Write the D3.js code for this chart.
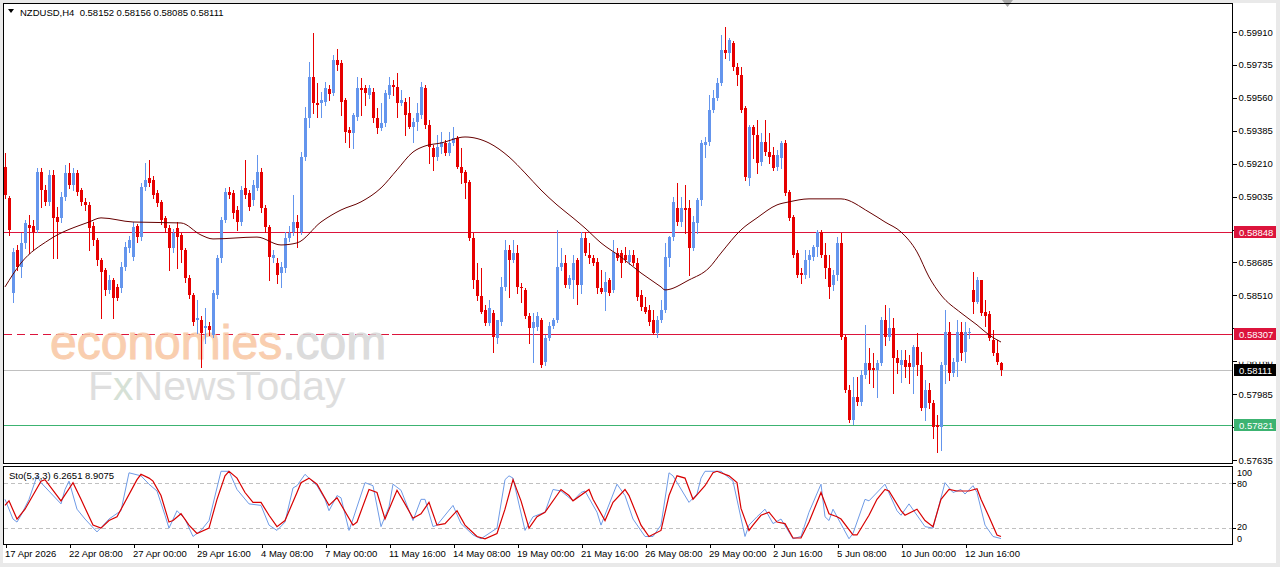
<!DOCTYPE html>
<html>
<head>
<meta charset="utf-8">
<script src="https://cdn.jsdelivr.net/npm/d3@7"></script>
<style>
  body { margin: 0; background: #e9e9e9; }
  svg { display: block; }
  text { font-family: "Liberation Sans", Arial, sans-serif; }
</style>
</head>
<body>
<div id="chart"></div>
<script>
// NZDUSD H4 candles (bar 0 = 17 Apr 16:00)
const openPrices = [
  0.59193, 0.59027, 0.58523, 0.58751, 0.58661, 0.58789, 0.58884, 0.58879, 0.58858, 0.59166,
  0.59070, 0.59006, 0.59150, 0.58927, 0.58921, 0.59033, 0.59161, 0.59097, 0.59161, 0.59070,
  0.59006, 0.58990, 0.58879, 0.58805, 0.58698, 0.58645, 0.58539, 0.58592, 0.58555, 0.58549,
  0.58661, 0.58762, 0.58714, 0.58879, 0.58821, 0.59087, 0.59134, 0.59124, 0.59054, 0.59006,
  0.58921, 0.58868, 0.58762, 0.58868, 0.58831, 0.58751, 0.58602, 0.58512, 0.58379, 0.58379,
  0.58336, 0.58347, 0.58299, 0.58512, 0.58708, 0.58911, 0.59059, 0.59054, 0.58964, 0.58900,
  0.59081, 0.59054, 0.59017, 0.59081, 0.59166, 0.58975, 0.58874, 0.58708, 0.58682, 0.58629,
  0.58655, 0.58815, 0.58847, 0.58900, 0.58847, 0.59246, 0.59453, 0.59671, 0.59533, 0.59533,
  0.59538, 0.59607, 0.59586, 0.59761, 0.59745, 0.59549, 0.59389, 0.59373, 0.59458, 0.59612,
  0.59612, 0.59575, 0.59591, 0.59453, 0.59400, 0.59426, 0.59575, 0.59628, 0.59618, 0.59533,
  0.59538, 0.59480, 0.59405, 0.59431, 0.59469, 0.59612, 0.59416, 0.59294, 0.59246, 0.59299,
  0.59320, 0.59267, 0.59320, 0.59347, 0.59193, 0.59166, 0.59113, 0.58815, 0.58592, 0.58507,
  0.58432, 0.58363, 0.58416, 0.58283, 0.58368, 0.58555, 0.58751, 0.58698, 0.58735, 0.58555,
  0.58539, 0.58400, 0.58336, 0.58341, 0.58379, 0.58156, 0.58283, 0.58347, 0.58379, 0.58661,
  0.58682, 0.58565, 0.58592, 0.58698, 0.58565, 0.58815, 0.58724, 0.58708, 0.58687, 0.58549,
  0.58528, 0.58592, 0.58539, 0.58735, 0.58735, 0.58724, 0.58687, 0.58724, 0.58682, 0.58512,
  0.58448, 0.58432, 0.58379, 0.58310, 0.58379, 0.58432, 0.58708, 0.58821, 0.58975, 0.58900,
  0.58975, 0.58975, 0.58762, 0.58895, 0.59017, 0.59310, 0.59325, 0.59496, 0.59560, 0.59639,
  0.59815, 0.59799, 0.59852, 0.59724, 0.59682, 0.59506, 0.59134, 0.59405, 0.59363, 0.59219,
  0.59325, 0.59272, 0.59256, 0.59193, 0.59241, 0.59320, 0.59059, 0.58927, 0.58735, 0.58629,
  0.58618, 0.58698, 0.58714, 0.58768, 0.58847, 0.58724, 0.58655, 0.58565, 0.58618, 0.58789,
  0.58289, 0.58007, 0.57848, 0.57970, 0.57943, 0.58087, 0.58151, 0.58124, 0.58113, 0.58151,
  0.58379, 0.58289, 0.58336, 0.58177, 0.58140, 0.58167, 0.58151, 0.58130, 0.58236, 0.58140,
  0.57911, 0.58007, 0.57938, 0.57821, 0.57810, 0.58140, 0.58315, 0.58097, 0.58156, 0.58315,
  0.58209, 0.58310, 0.58539, 0.58475, 0.58592, 0.58421, 0.58410, 0.58273, 0.58204, 0.58152
];
const highPrices = [
  0.59267, 0.59038, 0.58762, 0.58778, 0.58842, 0.58911, 0.58937, 0.58911, 0.59187, 0.59187,
  0.59097, 0.59177, 0.59177, 0.58980, 0.59059, 0.59203, 0.59214, 0.59187, 0.59177, 0.59081,
  0.59027, 0.59006, 0.58900, 0.58815, 0.58708, 0.58655, 0.58618, 0.58602, 0.58571, 0.58687,
  0.58794, 0.58826, 0.58900, 0.58890, 0.59108, 0.59214, 0.59230, 0.59145, 0.59070, 0.59017,
  0.58932, 0.58884, 0.58863, 0.58900, 0.58842, 0.58762, 0.58618, 0.58523, 0.58486, 0.58400,
  0.58443, 0.58368, 0.58539, 0.58724, 0.58927, 0.59081, 0.59087, 0.59070, 0.58985, 0.59092,
  0.59230, 0.59070, 0.59124, 0.59256, 0.59187, 0.58990, 0.58884, 0.58751, 0.58708, 0.58687,
  0.58847, 0.58879, 0.59043, 0.58937, 0.59272, 0.59512, 0.59751, 0.59905, 0.59639, 0.59591,
  0.59644, 0.59628, 0.59788, 0.59820, 0.59761, 0.59560, 0.59405, 0.59480, 0.59671, 0.59665,
  0.59628, 0.59628, 0.59612, 0.59506, 0.59533, 0.59602, 0.59671, 0.59655, 0.59692, 0.59602,
  0.59560, 0.59565, 0.59453, 0.59533, 0.59644, 0.59628, 0.59442, 0.59310, 0.59363, 0.59378,
  0.59336, 0.59378, 0.59405, 0.59357, 0.59294, 0.59177, 0.59124, 0.58842, 0.58682, 0.58655,
  0.58459, 0.58486, 0.58432, 0.58326, 0.58608, 0.58805, 0.58778, 0.58805, 0.58778, 0.58576,
  0.58549, 0.58416, 0.58416, 0.58421, 0.58389, 0.58299, 0.58368, 0.58389, 0.58858, 0.58762,
  0.58724, 0.58618, 0.58724, 0.58708, 0.58847, 0.58847, 0.58789, 0.58724, 0.58708, 0.58645,
  0.58634, 0.58602, 0.58805, 0.58762, 0.58751, 0.58768, 0.58751, 0.58751, 0.58708, 0.58539,
  0.58502, 0.58459, 0.58432, 0.58400, 0.58486, 0.58789, 0.58826, 0.59033, 0.59108, 0.59033,
  0.59097, 0.59017, 0.58932, 0.59027, 0.59336, 0.59352, 0.59575, 0.59602, 0.59665, 0.59894,
  0.59937, 0.59879, 0.59863, 0.59745, 0.59724, 0.59517, 0.59416, 0.59416, 0.59442, 0.59373,
  0.59442, 0.59373, 0.59299, 0.59283, 0.59331, 0.59336, 0.59070, 0.58937, 0.58751, 0.58655,
  0.58751, 0.58751, 0.58778, 0.58858, 0.58858, 0.58789, 0.58724, 0.58645, 0.58821, 0.58842,
  0.58299, 0.58033, 0.58076, 0.58076, 0.58113, 0.58352, 0.58231, 0.58204, 0.58167, 0.58395,
  0.58459, 0.58443, 0.58389, 0.58220, 0.58220, 0.58220, 0.58193, 0.58247, 0.58310, 0.58209,
  0.58060, 0.58044, 0.57954, 0.57874, 0.58156, 0.58432, 0.58368, 0.58177, 0.58379, 0.58368,
  0.58368, 0.58336, 0.58634, 0.58608, 0.58576, 0.58486, 0.58426, 0.58326, 0.58273, 0.58156
];
const lowPrices = [
  0.59027, 0.58831, 0.58475, 0.58645, 0.58608, 0.58762, 0.58735, 0.58751, 0.58847, 0.58980,
  0.58990, 0.58990, 0.58708, 0.58708, 0.58900, 0.59017, 0.59081, 0.59070, 0.59043, 0.58990,
  0.58964, 0.58751, 0.58778, 0.58671, 0.58389, 0.58512, 0.58523, 0.58389, 0.58486, 0.58528,
  0.58645, 0.58740, 0.58698, 0.58794, 0.58805, 0.59070, 0.59092, 0.59027, 0.58985, 0.58890,
  0.58847, 0.58645, 0.58740, 0.58655, 0.58687, 0.58581, 0.58496, 0.58352, 0.58310, 0.58130,
  0.58257, 0.58299, 0.58289, 0.58496, 0.58687, 0.58900, 0.59027, 0.58921, 0.58858, 0.58884,
  0.59027, 0.58964, 0.58990, 0.59070, 0.58953, 0.58847, 0.58592, 0.58687, 0.58576, 0.58555,
  0.58634, 0.58799, 0.58831, 0.58768, 0.58837, 0.59230, 0.59405, 0.59480, 0.59458, 0.59458,
  0.59522, 0.59549, 0.59575, 0.59708, 0.59469, 0.59325, 0.59299, 0.59294, 0.59442, 0.59469,
  0.59522, 0.59560, 0.59431, 0.59373, 0.59389, 0.59410, 0.59560, 0.59575, 0.59458, 0.59522,
  0.59363, 0.59400, 0.59325, 0.59389, 0.59453, 0.59400, 0.59214, 0.59177, 0.59230, 0.59267,
  0.59256, 0.59256, 0.59310, 0.59187, 0.59108, 0.59027, 0.58805, 0.58549, 0.58486, 0.58416,
  0.58352, 0.58352, 0.58209, 0.58257, 0.58352, 0.58539, 0.58502, 0.58687, 0.58523, 0.58475,
  0.58389, 0.58257, 0.58156, 0.58326, 0.58130, 0.58140, 0.58273, 0.58336, 0.58368, 0.58645,
  0.58555, 0.58549, 0.58496, 0.58464, 0.58523, 0.58724, 0.58682, 0.58671, 0.58523, 0.58523,
  0.58432, 0.58512, 0.58528, 0.58698, 0.58608, 0.58687, 0.58677, 0.58671, 0.58486, 0.58432,
  0.58416, 0.58352, 0.58304, 0.58289, 0.58368, 0.58421, 0.58666, 0.58805, 0.58884, 0.58879,
  0.58842, 0.58618, 0.58751, 0.58842, 0.58990, 0.59246, 0.59310, 0.59485, 0.59549, 0.59628,
  0.59772, 0.59761, 0.59708, 0.59628, 0.59485, 0.59124, 0.59097, 0.59241, 0.59161, 0.59203,
  0.59256, 0.59214, 0.59177, 0.59177, 0.59187, 0.59043, 0.58911, 0.58714, 0.58608, 0.58576,
  0.58602, 0.58608, 0.58698, 0.58719, 0.58714, 0.58602, 0.58496, 0.58539, 0.58592, 0.58279,
  0.57996, 0.57837, 0.57826, 0.57928, 0.57928, 0.58071, 0.58044, 0.58023, 0.57970, 0.58140,
  0.58247, 0.58273, 0.57991, 0.58097, 0.58049, 0.58076, 0.58044, 0.57991, 0.58087, 0.57901,
  0.57848, 0.57911, 0.57752, 0.57678, 0.57688, 0.58044, 0.58060, 0.58081, 0.58081, 0.58167,
  0.58156, 0.58283, 0.58416, 0.58469, 0.58405, 0.58347, 0.58273, 0.58193, 0.58146, 0.58085
];
const closePrices = [
  0.59043, 0.58858, 0.58740, 0.58661, 0.58789, 0.58895, 0.58868, 0.58847, 0.59166, 0.59070,
  0.59006, 0.59150, 0.58921, 0.58900, 0.59033, 0.59161, 0.59097, 0.59161, 0.59059, 0.59006,
  0.58990, 0.58868, 0.58805, 0.58698, 0.58634, 0.58539, 0.58592, 0.58496, 0.58496, 0.58661,
  0.58768, 0.58805, 0.58874, 0.58821, 0.59087, 0.59124, 0.59108, 0.59043, 0.59001, 0.58911,
  0.58868, 0.58762, 0.58842, 0.58821, 0.58751, 0.58602, 0.58512, 0.58368, 0.58389, 0.58310,
  0.58347, 0.58326, 0.58523, 0.58708, 0.58911, 0.59059, 0.59043, 0.58948, 0.58900, 0.59070,
  0.59043, 0.58980, 0.59097, 0.59166, 0.58975, 0.58874, 0.58714, 0.58724, 0.58618, 0.58661,
  0.58815, 0.58842, 0.58900, 0.58868, 0.59246, 0.59453, 0.59671, 0.59533, 0.59522, 0.59549,
  0.59612, 0.59581, 0.59761, 0.59735, 0.59538, 0.59378, 0.59373, 0.59469, 0.59612, 0.59602,
  0.59586, 0.59612, 0.59453, 0.59400, 0.59426, 0.59586, 0.59628, 0.59618, 0.59533, 0.59549,
  0.59469, 0.59405, 0.59431, 0.59480, 0.59618, 0.59416, 0.59299, 0.59246, 0.59299, 0.59325,
  0.59267, 0.59320, 0.59347, 0.59193, 0.59161, 0.59108, 0.58815, 0.58592, 0.58507, 0.58421,
  0.58363, 0.58443, 0.58289, 0.58379, 0.58555, 0.58751, 0.58698, 0.58735, 0.58555, 0.58549,
  0.58400, 0.58336, 0.58368, 0.58400, 0.58140, 0.58283, 0.58347, 0.58379, 0.58661, 0.58682,
  0.58565, 0.58602, 0.58682, 0.58565, 0.58815, 0.58735, 0.58708, 0.58682, 0.58549, 0.58528,
  0.58581, 0.58523, 0.58740, 0.58708, 0.58682, 0.58698, 0.58724, 0.58682, 0.58502, 0.58448,
  0.58421, 0.58368, 0.58310, 0.58379, 0.58432, 0.58714, 0.58821, 0.59006, 0.58900, 0.58975,
  0.58964, 0.58762, 0.58900, 0.59017, 0.59320, 0.59325, 0.59496, 0.59560, 0.59639, 0.59815,
  0.59799, 0.59868, 0.59724, 0.59682, 0.59496, 0.59140, 0.59405, 0.59363, 0.59214, 0.59325,
  0.59272, 0.59246, 0.59187, 0.59256, 0.59320, 0.59054, 0.58921, 0.58724, 0.58618, 0.58618,
  0.58698, 0.58724, 0.58768, 0.58847, 0.58724, 0.58655, 0.58555, 0.58618, 0.58789, 0.58289,
  0.58007, 0.57848, 0.57970, 0.57943, 0.58087, 0.58151, 0.58113, 0.58113, 0.58151, 0.58379,
  0.58289, 0.58336, 0.58177, 0.58151, 0.58167, 0.58130, 0.58130, 0.58236, 0.58140, 0.57911,
  0.58007, 0.57938, 0.57810, 0.57810, 0.58140, 0.58315, 0.58097, 0.58156, 0.58315, 0.58204,
  0.58315, 0.58315, 0.58475, 0.58592, 0.58416, 0.58400, 0.58283, 0.58204, 0.58156, 0.58111
];

// moving average line, sampled at bar positions
const maBars = [0, 4, 11, 21, 24, 32, 44, 49, 52, 63, 69, 73, 79, 84, 89, 94, 98, 102, 105, 109,
  115, 121, 126, 130, 134, 138, 142, 145, 149, 154, 159, 164, 165, 171, 176, 179, 184, 188, 193, 196,
  201, 209, 216, 220, 224, 228, 231, 234, 239, 243, 246, 249];
const maValues = [0.58555, 0.58682, 0.58805, 0.58900, 0.58922, 0.58900, 0.58895, 0.58831, 0.58810, 0.58820,
  0.58778, 0.58789, 0.58900, 0.58964, 0.59007, 0.59081, 0.59177, 0.59272, 0.59304, 0.59320,
  0.59352, 0.59320, 0.59246, 0.59161, 0.59070, 0.58991, 0.58922, 0.58868, 0.58789, 0.58714,
  0.58629, 0.58555, 0.58539, 0.58592, 0.58656, 0.58735, 0.58858, 0.58922, 0.58991, 0.59007,
  0.59023, 0.59023, 0.58953, 0.58900, 0.58847, 0.58741, 0.58608, 0.58512, 0.58417, 0.58353,
  0.58300, 0.58262];

// Stochastic (5,3,3): main %K and signal %D, turning points
const stochKBars = [0, 2, 3, 4, 6, 8, 9, 14, 15, 16, 18, 20, 23, 26, 29, 31, 34, 36, 38, 40,
  41, 43, 45, 47, 49, 51, 54, 56, 58, 61, 64, 66, 68, 70, 72, 73, 75, 78, 80, 81,
  83, 84, 86, 87, 90, 92, 94, 96, 97, 99, 102, 104, 105, 107, 108, 112, 114, 117, 119, 123,
  125, 126, 127, 130, 132, 135, 137, 139, 142, 144, 145, 148, 149, 153, 155, 157, 160, 162, 164, 166,
  167, 171, 173, 174, 175, 179, 182, 185, 186, 188, 190, 192, 194, 197, 199, 201, 204, 205, 206, 207,
  211, 212, 215, 216, 220, 223, 224, 226, 230, 232, 235, 237, 239, 240, 242, 243, 245, 247, 249];
const stochKValues = [58, 32, 28, 37, 58, 89, 80, 52, 71, 82, 45, 32, 15, 32, 43, 93, 89, 78, 69, 37,
  20, 43, 32, 9, 17, 30, 95, 95, 71, 52, 50, 24, 17, 28, 73, 76, 91, 76, 58, 43,
  63, 60, 17, 32, 80, 76, 22, 48, 78, 70, 30, 58, 58, 22, 24, 50, 26, 11, 6, 20,
  84, 89, 86, 17, 35, 41, 71, 69, 56, 67, 69, 41, 24, 78, 63, 32, 9, 9, 24, 93,
  89, 54, 65, 86, 95, 95, 82, 9, 24, 35, 45, 26, 32, 6, 9, 41, 78, 35, 30, 45,
  6, 13, 58, 56, 78, 43, 37, 52, 22, 20, 80, 67, 71, 65, 76, 67, 24, 9, 6.2651];
const stochDBars = [0, 1, 3, 5, 9, 10, 14, 17, 19, 22, 24, 26, 28, 33, 34, 36, 37, 39, 41, 42,
  44, 46, 48, 51, 53, 55, 56, 58, 60, 62, 64, 66, 68, 70, 73, 74, 76, 78, 81, 83,
  87, 88, 91, 93, 95, 98, 100, 102, 104, 106, 108, 110, 113, 115, 118, 120, 123, 125, 127, 129,
  131, 133, 135, 139, 141, 142, 146, 147, 150, 152, 155, 156, 159, 161, 164, 166, 168, 170, 172, 175,
  177, 178, 181, 183, 184, 186, 187, 189, 191, 193, 195, 197, 199, 201, 204, 206, 208, 209, 212, 213,
  216, 218, 220, 221, 224, 225, 228, 230, 232, 234, 236, 238, 241, 243, 244, 246, 248, 249];
const stochDValues = [50, 56, 32, 45, 82, 84, 56, 80, 58, 24, 20, 30, 35, 84, 91, 86, 82, 63, 28, 30,
  39, 24, 13, 20, 58, 89, 95, 86, 67, 54, 54, 37, 22, 30, 67, 80, 86, 78, 50, 60,
  24, 28, 71, 67, 32, 70, 52, 33, 39, 54, 24, 26, 43, 24, 9, 6, 13, 45, 84, 56,
  20, 35, 41, 71, 63, 56, 71, 58, 30, 54, 71, 63, 24, 9, 17, 63, 89, 86, 58, 76,
  93, 95, 89, 80, 46, 17, 24, 37, 41, 28, 26, 7, 7, 28, 67, 39, 35, 32, 11, 11,
  37, 58, 71, 69, 43, 37, 45, 30, 22, 58, 71, 69, 69, 72, 58, 35, 11, 8.9075];

// axis labels (0.58860 and 0.57810 sit fully under the price tags, so only their ticks show)
const priceTicks = [0.59910, 0.59735, 0.59560, 0.59385, 0.59210, 0.59035, 0.58860,
  0.58685, 0.58510, 0.58335, 0.58160, 0.57985, 0.57810, 0.57635];
const hiddenPriceLabels = [0.58860, 0.57810];
const timeLabels = ['17 Apr 2026', '22 Apr 08:00', '27 Apr 00:00', '29 Apr 16:00', '4 May 08:00',
  '7 May 00:00', '11 May 16:00', '14 May 08:00', '19 May 00:00', '21 May 16:00', '26 May 08:00',
  '29 May 00:00', '2 Jun 16:00', '5 Jun 08:00', '10 Jun 00:00', '12 Jun 16:00'];
const timeLabelBars = [0, 16, 32, 48, 64, 80, 96, 112, 128, 144, 160, 176, 192, 208, 224, 240];

// horizontal price lines drawn on the chart
const levelPrices = [0.58848, 0.58307, 0.58111, 0.57821];
const stochLevels = [80, 20];
const stochTickLabels = [100, 80, 20, 0];

const COLORS = {
  bull: '#6495ed',
  bear: '#e60000',
  ma: '#660000',
  resistance: '#dc143c',
  bid: '#c0c0c0',
  target: '#3cb371',
  stochK: '#6f9be6',
  stochD: '#d80000',
  level: '#c0c0c0',
  text: '#000000'
};
const levelColors = [COLORS.resistance, COLORS.resistance, COLORS.bid, COLORS.target];
const levelBoxColors = [COLORS.resistance, COLORS.resistance, '#000000', COLORS.target];

const W = 1280, H = 567;
const FONT = '9.5px';
const FONT_FAMILY = '"Liberation Sans", Arial, sans-serif';

const svg = d3.select('#chart').append('svg')
  .attr('width', W)
  .attr('height', H)
  .attr('viewBox', `0 0 ${W} ${H}`);

// window background
svg.append('rect').attr('width', W).attr('height', H).attr('fill', '#e9e9e9');
svg.append('rect').attr('x', 3).attr('y', 3).attr('width', 1273).attr('height', 560).attr('fill', '#ffffff');

const defs = svg.append('defs');
defs.append('clipPath').attr('id', 'clip-main')
  .append('rect').attr('x', 4).attr('y', 4).attr('width', 1228).attr('height', 459);
defs.append('clipPath').attr('id', 'clip-sub')
  .append('rect').attr('x', 4).attr('y', 467).attr('width', 1228).attr('height', 77);

// scales
const x = d3.scaleLinear().domain([0, openPrices.length - 1]).range([5, 1001]);
const y = d3.scaleLinear().domain([0.57635, 0.59910]).range([460, 32]);
const yStoch = d3.scaleLinear().domain([0, 100]).range([543.3, 467.5]);

const plot = svg.append('g').attr('clip-path', 'url(#clip-main)');

// horizontal lines (0.58307 is broken up behind the watermark on the left)
levelPrices.forEach((p, k) => {
  const yy = Math.round(y(p)) + 0.5;
  if (k === 1) {
    plot.append('line')
      .attr('x1', 4).attr('x2', 392).attr('y1', yy).attr('y2', yy)
      .attr('stroke', levelColors[k]).attr('stroke-dasharray', '8,5');
    plot.append('line')
      .attr('x1', 392).attr('x2', 1233).attr('y1', yy).attr('y2', yy)
      .attr('stroke', levelColors[k]);
  } else {
    plot.append('line')
      .attr('x1', 4).attr('x2', 1233).attr('y1', yy).attr('y2', yy)
      .attr('stroke', levelColors[k]);
  }
});

// watermark
const wm = plot.append('g').attr('opacity', 0.85);
const wm1 = wm.append('text')
  .attr('x', 50).attr('y', 359)
  .attr('font-size', '48px')
  .attr('stroke-width', 1);
wm1.append('tspan').attr('fill', '#f8c6a2').attr('stroke', '#f8c6a2').text('economies');
wm1.append('tspan').attr('fill', '#d6d6d6').attr('stroke', '#d6d6d6').text('.com');
const wm2 = wm.append('text')
  .attr('x', 88).attr('y', 400)
  .attr('font-size', '41px')
  .attr('fill', '#d9d9d9');
wm2.append('tspan').text('F');
wm2.append('tspan').attr('fill', '#cfdccf').text('x');
wm2.append('tspan').text('NewsToday');

// candles
const bars = openPrices.map((o, i) => ({
  i, o, h: highPrices[i], l: lowPrices[i], c: closePrices[i]
}));
const candleG = plot.append('g').attr('shape-rendering', 'crispEdges');
const candleColor = d => d.c >= d.o ? COLORS.bull : COLORS.bear;

candleG.selectAll('rect.wick')
  .data(bars)
  .join('rect')
  .attr('class', 'wick')
  .attr('x', d => Math.round(x(d.i)))
  .attr('y', d => Math.round(y(d.h)))
  .attr('width', 1)
  .attr('height', d => Math.max(1, Math.round(y(d.l)) - Math.round(y(d.h)) + 1))
  .attr('fill', candleColor);

candleG.selectAll('rect.body')
  .data(bars)
  .join('rect')
  .attr('class', 'body')
  .attr('x', d => Math.round(x(d.i)) - 1)
  .attr('y', d => Math.round(y(Math.max(d.o, d.c))))
  .attr('width', 3)
  .attr('height', d => Math.max(1, Math.round(y(Math.min(d.o, d.c))) - Math.round(y(Math.max(d.o, d.c)))))
  .attr('fill', candleColor);

// moving average
const maPoints = maBars.map((b, k) => ({ bar: b, value: maValues[k] }));
plot.append('path')
  .datum(maPoints)
  .attr('fill', 'none')
  .attr('stroke', COLORS.ma)
  .attr('stroke-width', 1)
  .attr('d', d3.line().x(d => x(d.bar)).y(d => y(d.value)).curve(d3.curveMonotoneX));

// header
svg.append('path').attr('d', 'M8,9 L14,9 L11,13 Z').attr('fill', '#000');
svg.append('text')
  .attr('x', 20).attr('y', 16)
  .attr('font-size', FONT)
  .attr('fill', COLORS.text)
  .attr('xml:space', 'preserve')
  .text('NZDUSD,H4  0.58152 0.58156 0.58085 0.58111');

// shift marker at the top
svg.append('path').attr('d', 'M1002,0 L1013,0 L1007.5,7 Z').attr('fill', '#a8a8a8');

// price axis
const priceAxis = d3.axisRight(y)
  .tickValues(priceTicks)
  .tickSize(4)
  .tickPadding(2)
  .tickFormat(d => hiddenPriceLabels.includes(d) ? '' : d3.format('.5f')(d));
const priceAxisG = svg.append('g')
  .attr('transform', 'translate(1232.5,0)')
  .call(priceAxis);
priceAxisG.select('.domain').remove();
priceAxisG.selectAll('line').attr('stroke', '#000').attr('shape-rendering', 'crispEdges');
priceAxisG.selectAll('text')
  .attr('font-size', FONT)
  .attr('font-family', FONT_FAMILY)
  .attr('fill', COLORS.text);

// labels that peek out above a price tag are cut at the tag's top edge
levelPrices.forEach((p, k) => {
  const top = Math.round(y(p)) - 6;
  defs.append('clipPath').attr('id', `clip-above-${k}`)
    .append('rect').attr('x', 1233).attr('y', 0).attr('width', 47).attr('height', top);
});
priceAxisG.selectAll('.tick').each(function (d) {
  const k = levelPrices.findIndex(p => Math.abs(y(p) - y(d)) < 12 && y(p) > y(d));
  if (k >= 0) d3.select(this).select('text').attr('clip-path', `url(#clip-above-${k})`)
    .attr('transform', `translate(-1232.5,0)`).attr('x', 1238.5);
});

// price tags on the axis
levelPrices.forEach((p, k) => {
  const yy = Math.round(y(p));
  svg.append('rect')
    .attr('x', 1234).attr('y', yy - 6)
    .attr('width', 42).attr('height', 12)
    .attr('fill', levelBoxColors[k]);
  svg.append('text')
    .attr('x', 1239).attr('y', yy + 3.5)
    .attr('font-size', FONT)
    .attr('fill', '#ffffff')
    .text(d3.format('.5f')(p));
});

// frames
svg.append('rect')
  .attr('x', 3.5).attr('y', 3.5).attr('width', 1229).attr('height', 460)
  .attr('fill', 'none').attr('stroke', '#000');

// stochastic sub window
const sub = svg.append('g');
sub.append('rect')
  .attr('x', 3.5).attr('y', 466.5).attr('width', 1229).attr('height', 78)
  .attr('fill', 'none').attr('stroke', '#000');

const subPlot = sub.append('g').attr('clip-path', 'url(#clip-sub)');
stochLevels.forEach(v => {
  const yy = Math.round(yStoch(v)) + 0.5;
  subPlot.append('line')
    .attr('x1', 4).attr('x2', 1233).attr('y1', yy).attr('y2', yy)
    .attr('stroke', COLORS.level)
    .attr('stroke-dasharray', '4,3');
});

const stochLine = d3.line().x(d => x(d.bar)).y(d => yStoch(d.value));
const kPoints = stochKBars.map((b, k) => ({ bar: b, value: stochKValues[k] }));
const dPoints = stochDBars.map((b, k) => ({ bar: b, value: stochDValues[k] }));
subPlot.append('path')
  .datum(kPoints)
  .attr('fill', 'none')
  .attr('stroke', COLORS.stochK)
  .attr('stroke-width', 1)
  .attr('d', stochLine);
subPlot.append('path')
  .datum(dPoints)
  .attr('fill', 'none')
  .attr('stroke', COLORS.stochD)
  .attr('stroke-width', 1.2)
  .attr('d', stochLine);

sub.append('text')
  .attr('x', 9).attr('y', 479)
  .attr('font-size', FONT)
  .attr('fill', COLORS.text)
  .text(`Sto(5,3,3) ${stochKValues[stochKValues.length - 1].toFixed(4)} ${stochDValues[stochDValues.length - 1].toFixed(4)}`);

// stochastic scale labels (top and bottom labels sit inside the window)
const stochLabelShift = { 100: 5.5, 80: 1, 20: -1, 0: -5 };
stochTickLabels.forEach(v => {
  const yy = yStoch(v) + stochLabelShift[v];
  sub.append('text')
    .attr('x', 1237).attr('y', yy + 3.3)
    .attr('font-size', '9px')
    .attr('fill', COLORS.text)
    .text(v);
});
stochLevels.forEach(v => {
  const yy = Math.round(yStoch(v)) + 0.5;
  sub.append('line')
    .attr('x1', 1233).attr('x2', 1236).attr('y1', yy).attr('y2', yy)
    .attr('stroke', '#000');
});

// time axis
const timeAxis = d3.axisBottom(x)
  .tickValues(timeLabelBars)
  .tickSize(3)
  .tickPadding(3)
  .tickFormat((d, k) => timeLabels[k]);
const timeAxisG = svg.append('g')
  .attr('transform', 'translate(0.5,544.5)')
  .call(timeAxis);
timeAxisG.select('.domain').remove();
timeAxisG.selectAll('line').attr('stroke', '#000').attr('shape-rendering', 'crispEdges');
timeAxisG.selectAll('text')
  .attr('font-size', FONT)
  .attr('font-family', FONT_FAMILY)
  .attr('fill', COLORS.text)
  .attr('text-anchor', 'start')
  .attr('x', -1);
</script>
</body>
</html>
